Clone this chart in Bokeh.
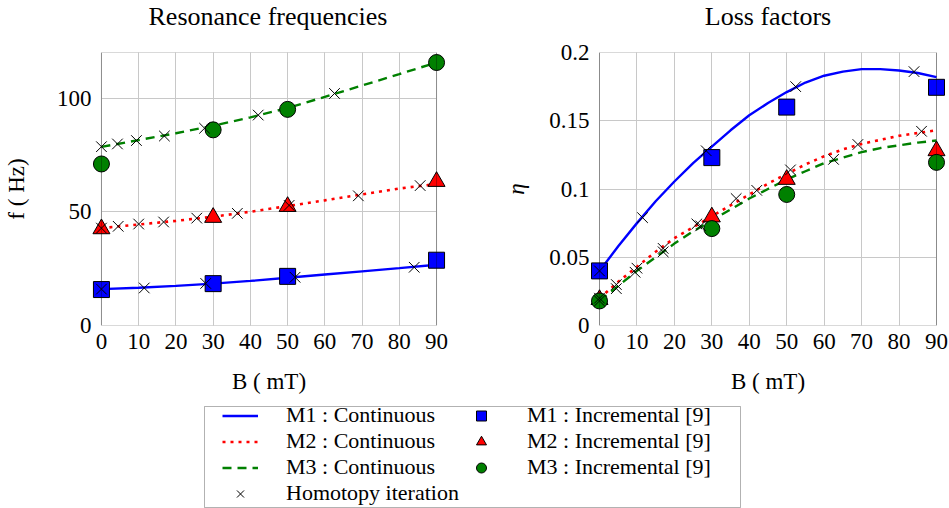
from bokeh.plotting import figure
from bokeh.models import FixedTicker, NumeralTickFormatter, Legend, LegendItem, Range1d, BoxAnnotation, Label
from bokeh.layouts import column, row
from bokeh.embed import file_html
from bokeh.resources import INLINE

FONT = "Liberation Serif"
BLUE = "#0000ff"
RED = "#ff0000"
GREEN = "#008000"
NAN = float("nan")

# ---------------- data ----------------
b_ticks = [0, 10, 20, 30, 40, 50, 60, 70, 80, 90]
f_ticks = [0, 50, 100]
eta_ticks = [0, 0.05, 0.1, 0.15, 0.2]
B_MIN, B_MAX = 0, 90
F_MAX = 120
ETA_MAX = 0.2

# continuous (resonance frequency, Hz)
b_cont_f = [0, 10, 20, 30, 40, 50, 60, 70, 80, 90]
f_m1_cont = [16.0, 16.6, 17.4, 18.4, 19.6, 21.0, 22.4, 23.8, 25.2, 26.7]
f_m2_cont = [42.8, 44.4, 46.0, 47.8, 50.0, 52.5, 55.0, 57.6, 60.2, 62.2]
f_m3_cont = [78.5, 81.5, 84.5, 87.8, 91.5, 95.6, 100.5, 105.5, 110.5, 115.6]

# continuous (loss factor)
b_cont_eta = [0, 5, 10, 15, 20, 25, 30, 35, 40, 45, 50, 55, 60, 65, 70, 75, 80, 85, 90]
eta_m1_cont = [0.040, 0.058, 0.075, 0.091, 0.1055, 0.119, 0.131, 0.143, 0.154, 0.163,
               0.171, 0.178, 0.183, 0.186, 0.1878, 0.1878, 0.1868, 0.185, 0.182]
eta_m2_cont = [0.020, 0.032, 0.043, 0.054, 0.064, 0.072, 0.080, 0.088, 0.096, 0.104,
               0.111, 0.118, 0.124, 0.129, 0.133, 0.136, 0.139, 0.141, 0.143]
eta_m3_cont = [0.018, 0.029, 0.040, 0.050, 0.060, 0.069, 0.077, 0.085, 0.093, 0.100,
               0.107, 0.113, 0.119, 0.123, 0.127, 0.130, 0.132, 0.134, 0.1355]

# incremental [9]
b_inc = [0, 30, 50, 90]
f_m1_inc = [15.8, 18.4, 21.6, 28.7]
f_m2_inc = [42.5, 47.5, 52.3, 63.3]
f_m3_inc = [71.0, 86.0, 95.0, 115.6]
eta_m1_inc = [0.040, 0.123, 0.160, 0.1745]
eta_m2_inc = [0.019, 0.0795, 0.107, 0.128]
eta_m3_inc = [0.018, 0.071, 0.096, 0.1195]

# homotopy iteration
b_hom_f_m1 = [0, 11.5, 28, 52, 84]
f_hom_m1 = [16.0, 16.5, 18.5, 21.2, 25.6]
b_hom_f_m2 = [0, 4.5, 10, 16.7, 25.6, 36.5, 50.4, 69, 85.6]
f_hom_m2 = [42.8, 43.6, 44.6, 45.5, 47.2, 49.3, 52.8, 57.0, 61.5]
b_hom_f_m3 = [0, 4.3, 9.4, 16.9, 27.7, 42.1, 62.6]
f_hom_m3 = [78.6, 79.8, 81.3, 83.3, 86.7, 92.5, 102.0]

b_hom_eta_m1 = [0, 11.5, 28.5, 52.4, 84]
eta_hom_m1 = [0.040, 0.079, 0.128, 0.175, 0.186]
b_hom_eta_m2 = [0, 4.5, 10, 17, 26, 36.5, 42, 51, 69, 86]
eta_hom_m2 = [0.020, 0.030, 0.042, 0.0565, 0.0744, 0.093, 0.099, 0.114, 0.1326, 0.1423]
b_hom_eta_m3 = [0, 4.5, 9.5, 17, 27, 62.5]
eta_hom_m3 = [0.018, 0.027, 0.039, 0.054, 0.073, 0.1217]

# ---------------- layout constants ----------------
BOX_W = 337          # axis box width in px
PAD = 10             # px of room left/right of the box so markers are not clipped
x_pad = (B_MAX - B_MIN) * PAD / BOX_W
TITLE_H = 40         # height of the strip that holds the titles
TITLE_Y = 24.5       # label anchor, px from the strip bottom
FIG_H = 396 - TITLE_H


def title_strip(width, border_left, border_right, x_range, text):
    t = figure(width=width, height=TITLE_H, x_range=x_range, y_range=Range1d(0, TITLE_H),
               output_backend="svg", toolbar_location=None, x_axis_type=None, y_axis_type=None,
               min_border_left=border_left, min_border_right=border_right,
               min_border_top=0, min_border_bottom=0)
    t.outline_line_color = None
    t.grid.visible = False
    t.background_fill_color = "white"
    t.border_fill_color = "white"
    t.add_layout(Label(x=(B_MIN + B_MAX) / 2, y=TITLE_Y, text=text,
                       text_font=FONT, text_font_size="26px", text_align="center",
                       text_baseline="alphabetic", text_color="black"))
    return t


def style(p, ylabel, yticks, ymax, label_standoff):
    p.outline_line_color = None
    p.background_fill_color = "white"
    p.border_fill_color = "white"
    for ax in (p.xaxis[0], p.yaxis[0]):
        ax.axis_line_color = None
        ax.major_tick_in = 0
        ax.major_tick_out = 0
        ax.minor_tick_in = 0
        ax.minor_tick_out = 0
        ax.major_label_text_font = FONT
        ax.major_label_text_font_size = "23px"
        ax.major_label_text_color = "black"
        ax.axis_label_text_font = FONT
        ax.axis_label_text_font_size = "23px"
        ax.axis_label_text_font_style = "normal"
        ax.axis_label_text_color = "black"
    p.xaxis.ticker = FixedTicker(ticks=b_ticks)
    p.yaxis.ticker = FixedTicker(ticks=yticks)
    p.xaxis.axis_label = "B ( mT)"
    p.yaxis.axis_label = ylabel
    p.xaxis.major_label_standoff = 8
    p.xaxis.axis_label_standoff = 17
    p.yaxis.major_label_standoff = 0
    p.yaxis.axis_label_standoff = label_standoff
    p.grid.grid_line_color = "#c8c8c8"
    p.grid.grid_line_width = 1
    p.ygrid.cross_bounds = (B_MIN, B_MAX)
    box = BoxAnnotation(left=B_MIN, right=B_MAX, bottom=0, top=ymax,
                        fill_alpha=0, line_color="black", line_width=1, level="glyph")
    p.add_layout(box)


def draw(p, bc, c1, c2, c3, i1, i2, i3, hx1, hy1, hx2, hy2, hx3, hy3):
    p.line(bc, c1, line_color=BLUE, line_width=2.4)
    p.line(bc, c2, line_color=RED, line_width=2.6, line_dash="3 5")
    p.line(bc, c3, line_color=GREEN, line_width=2.4, line_dash="9 6")
    p.scatter(b_inc, i1, marker="square", size=16, fill_color=BLUE, line_color="black", line_width=1)
    p.scatter(b_inc, i2, marker="triangle", size=17, fill_color=RED, line_color="black", line_width=1)
    p.scatter(b_inc, i3, marker="circle", size=16, fill_color=GREEN, line_color="black", line_width=1)
    for hx, hy in ((hx1, hy1), (hx2, hy2), (hx3, hy3)):
        p.scatter(hx, hy, marker="x", size=15, line_color="black", line_width=1)


xr1 = Range1d(B_MIN - x_pad, B_MAX + x_pad)
xr2 = Range1d(B_MIN - x_pad, B_MAX + x_pad)

t1 = title_strip(460, 89, 14, xr1, "Resonance frequencies")
p1 = figure(width=460, height=FIG_H, x_range=xr1, y_range=Range1d(0, F_MAX),
            output_backend="svg", toolbar_location=None,
            min_border_left=89, min_border_right=14, min_border_top=52 - TITLE_H, min_border_bottom=70)
style(p1, "f ( Hz)", f_ticks, F_MAX, 25)
draw(p1, b_cont_f, f_m1_cont, f_m2_cont, f_m3_cont, f_m1_inc, f_m2_inc, f_m3_inc,
     b_hom_f_m1, f_hom_m1, b_hom_f_m2, f_hom_m2, b_hom_f_m3, f_hom_m3)

t2 = title_strip(489, 129, 3, xr2, "Loss factors")
p2 = figure(width=489, height=FIG_H, x_range=xr2, y_range=Range1d(0, ETA_MAX),
            output_backend="svg", toolbar_location=None,
            min_border_left=129, min_border_right=3, min_border_top=50 - TITLE_H, min_border_bottom=71)
style(p2, "η", eta_ticks, ETA_MAX, 17)
p2.yaxis.formatter = NumeralTickFormatter(format="0.[00]")
p2.yaxis.axis_label_text_font_style = "italic"
draw(p2, b_cont_eta, eta_m1_cont, eta_m2_cont, eta_m3_cont, eta_m1_inc, eta_m2_inc, eta_m3_inc,
     b_hom_eta_m1, eta_hom_m1, b_hom_eta_m2, eta_hom_m2, b_hom_eta_m3, eta_hom_m3)

# ---------------- legend ----------------
LEG_W, LEG_H = 949, 112
pl = figure(width=LEG_W, height=LEG_H, x_range=Range1d(0, LEG_W), y_range=Range1d(0, LEG_H),
            output_backend="svg", toolbar_location=None, x_axis_type=None, y_axis_type=None,
            min_border=0, min_border_left=0, min_border_right=0, min_border_top=0, min_border_bottom=0)
pl.outline_line_color = None
pl.grid.visible = False
pl.background_fill_color = "white"
pl.border_fill_color = "white"
pl.add_layout(BoxAnnotation(left=204, right=740, bottom=1, top=102, fill_color="white",
                            fill_alpha=1, line_color="black", line_width=1, level="underlay"))
ph = [NAN]
r_c1 = pl.line(ph, ph, line_color=BLUE, line_width=2.4)
r_c2 = pl.line(ph, ph, line_color=RED, line_width=2.6, line_dash="3 5")
r_c3 = pl.line(ph, ph, line_color=GREEN, line_width=2.4, line_dash="9 6")
r_h = pl.scatter(ph, ph, marker="x", line_color="black", line_width=1)
r_i1 = pl.scatter(ph, ph, marker="square", fill_color=BLUE, line_color="black", line_width=1)
r_i2 = pl.scatter(ph, ph, marker="triangle", fill_color=RED, line_color="black", line_width=1)
r_i3 = pl.scatter(ph, ph, marker="circle", fill_color=GREEN, line_color="black", line_width=1)

legend = Legend(items=[
    LegendItem(label="M1 : Continuous", renderers=[r_c1]),
    LegendItem(label="M2 : Continuous", renderers=[r_c2]),
    LegendItem(label="M3 : Continuous", renderers=[r_c3]),
    LegendItem(label="Homotopy iteration", renderers=[r_h]),
    LegendItem(label="M1 : Incremental [9]", renderers=[r_i1]),
    LegendItem(label="M2 : Incremental [9]", renderers=[r_i2]),
    LegendItem(label="M3 : Incremental [9]", renderers=[r_i3]),
], orientation="vertical", nrows=4, location=(222, 2))
legend.label_text_font = FONT
legend.label_text_font_size = "22px"
legend.label_text_color = "black"
legend.label_text_line_height = 1.0
legend.border_line_color = None
legend.background_fill_alpha = 0
legend.padding = 0
legend.margin = 0
legend.spacing = 0
legend.glyph_width = 36
legend.glyph_height = 25
legend.label_standoff = 28
legend.label_width = 177
legend.label_height = 25
pl.add_layout(legend, "center")

layout = column(row(t1, t2), row(p1, p2), pl)
open("out.html", "w").write(file_html(layout, INLINE))
